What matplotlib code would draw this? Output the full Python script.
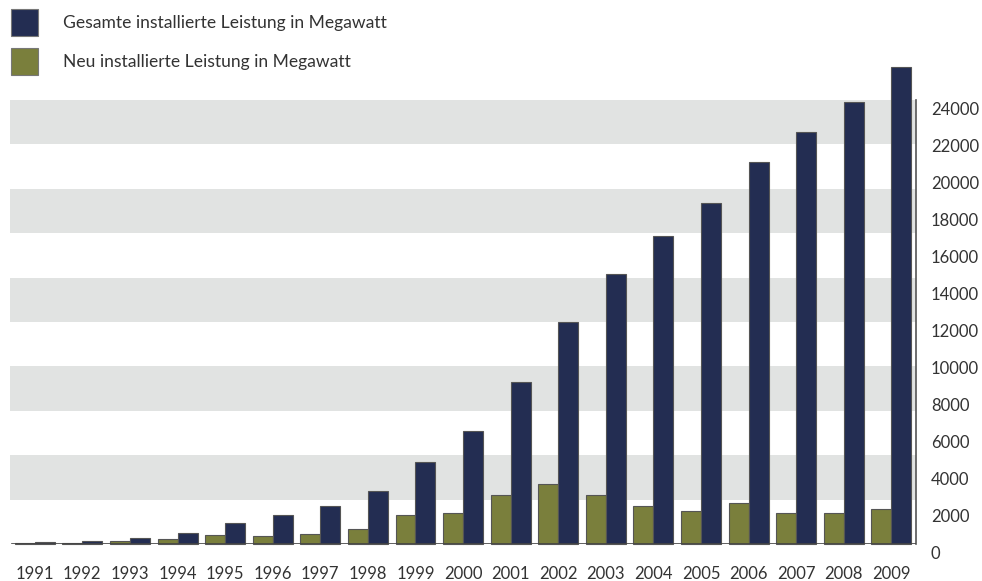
import matplotlib
matplotlib.use("Agg")
import matplotlib.pyplot as plt
import matplotlib.transforms as mtransforms
from matplotlib.patches import Rectangle
import numpy as np

years = ["1991", "1992", "1993", "1994", "1995", "1996", "1997", "1998", "1999", "2000",
         "2001", "2002", "2003", "2004", "2005", "2006", "2007", "2008", "2009"]
gesamt = [106, 174, 326, 618, 1121, 1549, 2081, 2875, 4444, 6095,
          8754, 11994, 14609, 16629, 18428, 20622, 22247, 23903, 25777]
neu = [48, 68, 152, 292, 503, 428, 534, 793, 1568, 1665,
       2659, 3247, 2645, 2037, 1808, 2233, 1667, 1665, 1917]
yticks = list(range(0, 24001, 2000))
label_gesamt = "Gesamte installierte Leistung in Megawatt"
label_neu = "Neu installierte Leistung in Megawatt"

navy = "#232d52"
olive = "#7a7f3c"
band = "#e1e3e2"
txt = "#333333"

plt.rcParams['font.family'] = ['Lato', 'DejaVu Sans']

W, H = 982, 581
fig = plt.figure(figsize=(W / 100, H / 100), dpi=100)
ax = fig.add_axes([10 / W, (H - 544) / H, (915.7 - 10) / W, (544 - 100) / H])

x = np.arange(len(years))
bw = 0.42
ax.set_xlim(-0.52, len(years) - 1 + 0.51)
ax.set_ylim(0, 24000)

# grey bands
for i in range(0, 10, 2):
    ax.axhspan(24000 * (9 - i) / 10, 24000 * (10 - i) / 10, color=band, lw=0, zorder=0)

ax.bar(x - bw / 2, neu, width=bw, color=olive, edgecolor="#555555", linewidth=0.8,
       zorder=2, clip_on=False)
ax.bar(x + bw / 2, gesamt, width=bw, color=navy, edgecolor="#555555", linewidth=0.8,
       zorder=2, clip_on=False)

for s in ["top", "left", "bottom"]:
    ax.spines[s].set_visible(False)
ax.spines["right"].set_color("#555555")
ax.spines["right"].set_linewidth(1.2)
ax.axhline(0, color="#444444", lw=1.2, zorder=3, xmin=0.002)

ax.yaxis.tick_right()
ax.set_yticks(yticks)
ax.set_yticklabels([str(v) for v in yticks], fontsize=12, color=txt)
ax.tick_params(axis="y", length=0, pad=11)
offset = mtransforms.ScaledTranslation(0, -8.5 / 100, fig.dpi_scale_trans)
for lab in ax.get_yticklabels():
    lab.set_transform(lab.get_transform() + offset)
    lab.set_horizontalalignment("left")

ax.set_xticks(x)
ax.set_xticklabels(years, fontsize=12, color=txt)
ax.tick_params(axis="x", length=0, pad=16)

# legend
fig.patches.append(Rectangle((10.5 / W, 1 - 36 / H), 27.5 / W, 27 / H, transform=fig.transFigure,
                             facecolor=navy, edgecolor="#777777", lw=0.8))
fig.patches.append(Rectangle((10.5 / W, 1 - 75.3 / H), 27.5 / W, 27 / H, transform=fig.transFigure,
                             facecolor=olive, edgecolor="#777777", lw=0.8))
fig.text(63 / W, 1 - 23 / H, label_gesamt, fontsize=12.6, color=txt, va="center", ha="left")
fig.text(63 / W, 1 - 62.5 / H, label_neu, fontsize=12.6, color=txt, va="center", ha="left")

fig.savefig("out.png", dpi=100)
